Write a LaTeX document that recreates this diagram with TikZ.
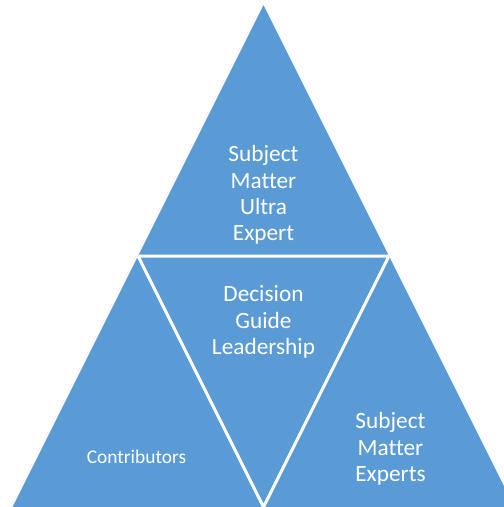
\documentclass[tikz,border=0pt]{standalone}
\usepackage{fontspec}
\setmainfont{Carlito}[Ligatures={NoCommon}]
\usepackage{tikz}
\usetikzlibrary{positioning}
\definecolor{pyrBlue}{RGB}{91, 155, 213}

\tikzset{
    label text/.style={text=white, align=center, inner sep=0pt},
    big label/.style={label text, font=\fontsize{23.3}{26.4}\selectfont},
    small label/.style={label text, font=\fontsize{19.4}{22}\selectfont}
}

\begin{document}
\begin{tikzpicture}[x=1pt, y=-1pt]
            \useasboundingbox (0,0) rectangle (504,507);
            \clip (0,0) rectangle (504,507);
            \coordinate (T) at (263.5,5);
            \coordinate (BL) at (12.5,507);
            \coordinate (BR) at (514.5,507);
            \coordinate (L) at (138,256);
            \coordinate (R) at (389,256);
            \coordinate (B) at (263.5,507);
            
            \fill[pyrBlue] (T)--(BL)--(BR)--cycle;
            \begin{scope}
                \clip (T)--(BL)--(BR)--cycle;
                \draw[white, line width=3pt] (L)--(R)--(B)--cycle;
            \end{scope}
            
            \node[big label] (ultra) at (263.5,195) {Subject\\Matter\\Ultra\\Expert};
            \node[big label] (guide) at (263.5,322) {Decision\\Guide\\Leadership};
            \node[small label] (contrib) at (136.5,457) {Contributors};
            \node[big label] (experts) at (390.5,449) {Subject\\Matter\\Experts};
        \end{tikzpicture}
\end{document}
